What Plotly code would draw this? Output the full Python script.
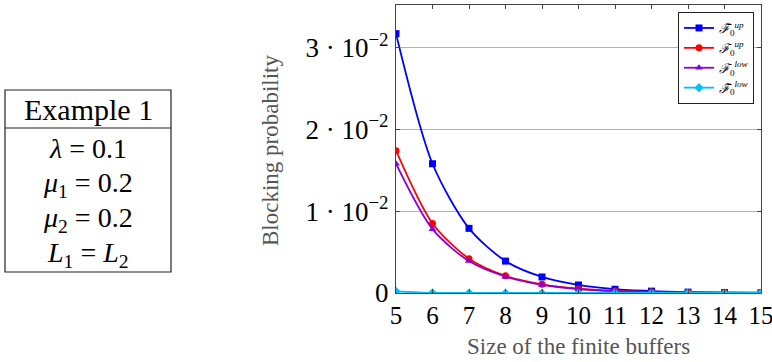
import plotly.graph_objects as go

buffer_sizes = [5, 6, 7, 8, 9, 10, 11, 12, 13, 14, 15]
f_tilde_up = [0.0317, 0.0158, 0.0079, 0.0039, 0.00196, 0.00098, 0.00046, 0.00023, 0.00011, 0.00005, 0.00003]
f_up = [0.0174, 0.0085, 0.0042, 0.0021, 0.00106, 0.00052, 0.00025, 0.00012, 0.00006, 0.00003, 0.000015]
f_low = [0.0158, 0.0078, 0.0039, 0.0020, 0.00098, 0.00047, 0.00023, 0.00011, 0.00005, 0.00003, 0.000015]
f_tilde_low = [0.0002, 0.00002, 0.000005, 0.000002, 0.000001, 0.0000005, 0.0000002, 0.0000001, 0.0, 0.0, 0.0]

series_names = [
    "<i>ℱ̃</i><sub>0</sub><sup><i>up</i></sup>",
    "<i>ℱ</i><sub>0</sub><sup><i>up</i></sup>",
    "<i>ℱ</i><sub>0</sub><sup><i>low</i></sup>",
    "<i>ℱ̃</i><sub>0</sub><sup><i>low</i></sup>",
]
series_values = [f_tilde_up, f_up, f_low, f_tilde_low]
series_colors = ["#0000ff", "#ff0000", "#8b00d6", "#00bfff"]
series_symbols = ["square", "circle", "triangle-up", "diamond"]

y_tick_vals = [0, 0.01, 0.02, 0.03]
y_tick_text = ["0", "1 · 10<sup>−2</sup>", "2 · 10<sup>−2</sup>", "3 · 10<sup>−2</sup>"]

table_header = "Example 1"
table_rows = ["<i>λ</i> = 0.1", "<i>μ</i><sub>1</sub> = 0.2", "<i>μ</i><sub>2</sub> = 0.2",
              "<i>L</i><sub>1</sub> = <i>L</i><sub>2</sub>"]

FONT = "Liberation Serif, DejaVu Serif, serif"

fig = go.Figure()
for name, vals, col, sym in zip(series_names, series_values, series_colors, series_symbols):
    fig.add_trace(go.Scatter(
        x=buffer_sizes, y=vals, name=name, mode="lines+markers",
        line=dict(color=col, width=1.8, shape="spline", smoothing=0.8),
        marker=dict(color=col, symbol=sym, size=7),
    ))

# helper invisible trace for the table coordinate system (pixel-like units)
fig.add_trace(go.Scatter(x=[0], y=[0], xaxis="x2", yaxis="y2", mode="markers",
                         marker=dict(opacity=0), showlegend=False, hoverinfo="skip"))

W, H = 772, 362
ml, mr, mt, mb = 0, 0, 5, 69
pw = W - ml - mr  # 772
ph = H - mt - mb  # 288
X0, X1 = 396, 761  # main plot left/right pixels

fig.update_layout(
    width=W, height=H,
    margin=dict(l=ml, r=mr, t=mt, b=mb, autoexpand=False),
    paper_bgcolor="white", plot_bgcolor="white",
    font=dict(family=FONT, color="black"),
    xaxis=dict(domain=[X0 / pw, X1 / pw], range=[5, 15], tickvals=buffer_sizes,
               tickfont=dict(size=25, family=FONT), showgrid=False, zeroline=False,
               showline=True, linecolor="#444", linewidth=1.2, mirror="ticks",
               ticks="inside", ticklen=4, tickcolor="#444", ticklabelstandoff=0,
               ticklabeloverflow="allow"),
    yaxis=dict(range=[0, 0.0352], tickvals=y_tick_vals, ticktext=y_tick_text,
               tickfont=dict(size=27, family=FONT), showgrid=True, gridcolor="#b4b4b4",
               gridwidth=1, zeroline=False, showline=True, linecolor="#444", linewidth=1.2,
               mirror="ticks", ticks="inside", ticklen=4, tickcolor="#444", ticklabelstandoff=1,
               ticklabeloverflow="allow"),
    xaxis2=dict(domain=[0, 380 / pw], range=[0, 380], visible=False, anchor="y2"),
    yaxis2=dict(domain=[0, 1], range=[293, 5], visible=False, anchor="x2"),
    legend=dict(x=754 / pw, xanchor="right", y=1 - 7 / ph, yanchor="top",
                bgcolor="white", bordercolor="#222", borderwidth=1,
                font=dict(size=13, family=FONT), tracegroupgap=0, itemwidth=30),
    showlegend=True,
)

# axis titles as annotations (paper coords: x = px/pw, y = (293-py)/ph)
fig.add_annotation(text="Blocking probability", xref="paper", yref="paper",
                   x=270 / pw, y=(293 - 150) / ph, showarrow=False, textangle=-90,
                   font=dict(size=23, color="#555", family=FONT), xanchor="center", yanchor="middle")
fig.add_annotation(text="Size of the finite buffers", xref="paper", yref="paper",
                   x=578 / pw, y=(293 - 346) / ph, showarrow=False,
                   font=dict(size=23, color="#555", family=FONT), xanchor="center", yanchor="middle")

# table
fig.add_shape(type="rect", xref="x2", yref="y2", x0=5, x1=171, y0=90, y1=272,
              line=dict(color="#222", width=1.2))
fig.add_shape(type="line", xref="x2", yref="y2", x0=5, x1=171, y0=128, y1=128,
              line=dict(color="#222", width=1.2))
fig.add_annotation(text=table_header, xref="x2", yref="y2", x=88, y=109, showarrow=False,
                   font=dict(size=30, family=FONT), xanchor="center", yanchor="middle")
row_y = [148, 184, 219, 254]
for txt, yy in zip(table_rows, row_y):
    fig.add_annotation(text=txt, xref="x2", yref="y2", x=88, y=yy, showarrow=False,
                       font=dict(size=28, family=FONT), xanchor="center", yanchor="middle")

fig.write_html("out.html", config={"displayModeBar": False},
               post_script="document.body.style.margin='0px';")
